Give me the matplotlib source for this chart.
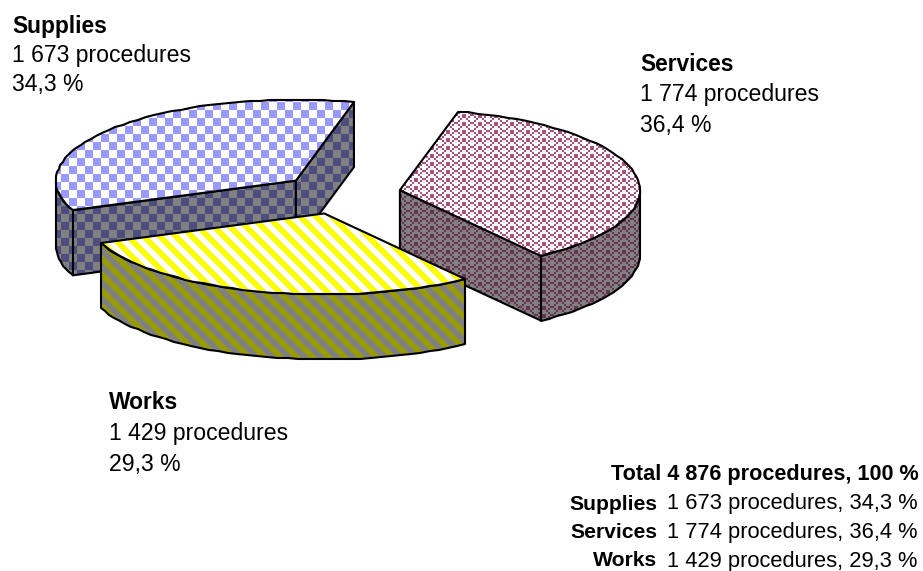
import numpy as np
import matplotlib
matplotlib.use("Agg")
import matplotlib.pyplot as plt
from matplotlib.patches import Polygon

plt.rcParams['font.family'] = ['Liberation Sans', 'DejaVu Sans']

categories = ["Supplies", "Services", "Works"]
counts = [1673, 1774, 1429]
count_labels = ["1 673", "1 774", "1 429"]
pct_labels = ["34,3 %", "36,4 %", "29,3 %"]
total_label = "Total 4 876 procedures, 100 %"

W, H = 923, 571
CX, CY = 341, 194      # pie centre before the explode
RX, RY = 240, 81
DEPTH = 65
EXPLODE = 0.25
START = 76             # degrees, slices run clockwise from here
SKEW = [0, 1, 2]       # the original's projection isn't a clean ellipse
WEAVE_BLOCK = ["..#.",
               "#..#",
               "#.#.",
               ".#.."]

yy, xx = np.mgrid[0:H, 0:W]

def hexrgb(c):
  return np.array(matplotlib.colors.to_rgb(c))

def texture(mask, fg, bg):
  img = np.zeros((H, W, 3))
  img[mask] = hexrgb(fg)
  img[~mask] = hexrgb(bg)
  return img

checker = ((xx - 5) // 8 + (yy - 6) // 8) % 2 == 0
stripes = (xx - yy) % 16 < 8
b1 = np.array([[ch == "#" for ch in row] for row in WEAVE_BLOCK])
tile = np.hstack([b1, b1[:, ::-1]])
# plain zigzag bands, close enough to the original weave
weave = tile[(yy // 2) % 4, (xx // 2) % 8]

masks = {"Supplies": checker, "Services": weave, "Works": stripes}
top_colors = {"Supplies": ("#9999ff", "#ffffff"), "Services": ("#a8507e", "#ffffff"), "Works": ("#ffff00", "#ffffff")}
wall_colors = {"Supplies": ("#4d4d80", "#808080"), "Services": ("#663350", "#808080"), "Works": ("#999900", "#808080")}

fig = plt.figure(figsize=(W / 100, H / 100), dpi=100)
ax = fig.add_axes((0, 0, 1, 1))
ax.set_xlim(0, W)
ax.set_ylim(H, 0)
ax.axis("off")

def rim(c, a):
  # a is in degrees, can be an array
  a = np.radians(a)
  return np.column_stack([c[0] + RX * np.cos(a), c[1] - RY * np.sin(a)])

def face(pts, name, colors, z):
  poly = Polygon(pts, closed=True, fc="none", ec="black", lw=1.5, joinstyle="round", zorder=z + 0.5)
  ax.add_patch(poly)
  im = ax.imshow(texture(masks[name], *colors[name]), extent=(0, W, H, 0), interpolation="nearest",
                 zorder=z, aspect="auto")
  im.set_clip_path(Polygon(pts, closed=True, transform=ax.transData))

def radial_visible(c, p, q):
  # the wall of an edge shows when the slice lies above that edge on screen
  line_y = c[1] + (p[1] - c[1]) * (q[0] - c[0]) / (p[0] - c[0])
  return q[1] < line_y

def draw_slice(name, a1, a2, z):
  # a1 > a2, clockwise
  mid = (a1 + a2) / 2
  m = np.radians(mid)
  c = np.array([CX + EXPLODE * RX * np.cos(m), CY - EXPLODE * RY * np.sin(m)])
  arc = np.round(rim(c, np.linspace(a1, a2, int((a1 - a2) / 2.5) + 1)))
  down = np.array([0, DEPTH])
  q = (c + rim(c, mid)[0]) / 2
  for a in (a1, a2):
    p = rim(c, a)[0]
    if radial_visible(c, p, q):
      face(np.array([c, p, p + down, c + down]), name, wall_colors, z)
      z += 1
  # front part of the rim, sin(a) < 0
  for lo, hi in ((180, 360), (-180, 0)):
    l, h = max(a2, lo), min(a1, hi)
    if h > l:
      front = np.round(rim(c, np.linspace(h, l, int((h - l) / 2.5) + 2)))
      face(np.vstack([front, (front + down)[::-1]]), name, wall_colors, z)
      z += 1
  face(np.vstack([c, arc]), name, top_colors, z)
  return z + 1

angles = np.array(counts) / sum(counts) * 360
sup, ser, wor = angles
z = 1
z = draw_slice("Supplies", START + sup + SKEW[2], START + SKEW[0], z)
z = draw_slice("Services", START + SKEW[0], START - ser + SKEW[1], z)
z = draw_slice("Works", START - ser + SKEW[1], START - ser - wor + SKEW[2], z)

# callouts next to the slices
label_x = [12, 640, 109]
label_y = [33, 71, 409]
label_step = [29, 30.5, 31]
for name, cnt, pct, x, y, step in zip(categories, count_labels, pct_labels, label_x, label_y, label_step):
  ax.text(x, y, name, fontsize=16.4, fontweight="bold", va="baseline", ha="left", zorder=50)
  ax.text(x, y + step, cnt + " procedures", fontsize=16.6, va="baseline", ha="left", zorder=50)
  ax.text(x, y + 2 * step, pct, fontsize=16.6, va="baseline", ha="left", zorder=50)

# small table bottom right
ax.text(919, 480, total_label, fontsize=15.55, fontweight="bold", ha="right", va="baseline", zorder=50)
for i, (name, cnt, pct) in enumerate(zip(categories, count_labels, pct_labels)):
  y = 509.5 + i * 28.5
  ax.text(657, y, name, fontsize=15.2, fontweight="bold", ha="right", va="baseline", zorder=50)
  ax.text(667, y, cnt + " procedures, " + pct, fontsize=15.75, ha="left", va="baseline", zorder=50)

plt.savefig("out.png", dpi=100)
